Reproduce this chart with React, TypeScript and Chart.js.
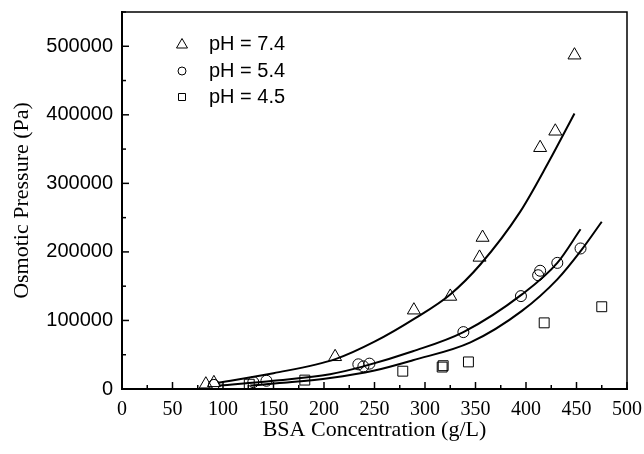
import React, { useEffect, useRef } from 'react';
import { Chart, registerables } from 'chart.js';

Chart.register(...registerables);

// Tick labels
const xTicks = [0, 50, 100, 150, 200, 250, 300, 350, 400, 450, 500];
const yTicks = [0, 100000, 200000, 300000, 400000, 500000];

// Measured data
const ph74X = [83, 91, 211, 289, 325, 354, 357, 414, 429, 448];
const ph74Y = [7000, 9000, 47000, 115000, 135000, 192000, 221000, 352000, 376000, 487000];
const ph54X = [91, 130, 143, 234, 239, 245, 338, 395, 412, 414, 431, 454];
const ph54Y = [6000, 10000, 12000, 36000, 33000, 37000, 83000, 135500, 166000, 172500, 184000, 205000];
const ph45X = [126, 181, 278, 317, 318, 343, 418, 475];
const ph45Y = [7000, 13000, 26000, 32000, 34000, 39500, 96500, 120000];

// Fitted curves
const fit74X = [95, 150, 212, 250, 290, 325, 355, 394, 422, 448];
const fit74Y = [9000, 23000, 44000, 69000, 103000, 138000, 182000, 258000, 330000, 402000];
const fit54X = [97, 150, 206, 239, 288, 338, 396, 431, 454];
const fit54Y = [5000, 12000, 21500, 33000, 55000, 83000, 138000, 184000, 233000];
const fit45X = [127, 160, 206, 250, 288, 345, 396, 431, 455, 475];
const fit45Y = [5000, 9000, 16000, 27000, 42000, 68000, 114000, 160000, 203000, 244000];

const legendLabels = ['pH = 7.4', 'pH = 5.4', 'pH = 4.5'];

const toPts = (xs: number[], ys: number[]) => xs.map((x, i) => ({ x, y: ys[i] }));

const SANS = '"Liberation Sans", Arial, sans-serif';
const SERIF = '"Liberation Serif", "Times New Roman", serif';

const zeroPad = (s: any) => {
  s.paddingLeft = 0;
  s.paddingRight = 0;
  s.paddingTop = 0;
  s.paddingBottom = 0;
};

const framePlugin = {
  id: 'framePlugin',
  afterDraw(chart: any) {
    const { ctx, chartArea } = chart;
    const xs = chart.scales.x;
    const ys = chart.scales.y;
    ctx.save();
    ctx.strokeStyle = '#000';
    ctx.lineWidth = 1.5;
    ctx.beginPath();
    ctx.moveTo(chartArea.left, chartArea.top);
    ctx.lineTo(chartArea.right, chartArea.top);
    ctx.lineTo(chartArea.right, chartArea.bottom);
    ctx.stroke();
    for (let v = 0; v <= 500; v += 25) {
      const px = xs.getPixelForValue(v);
      const len = v % 50 === 0 ? 7 : 4;
      ctx.beginPath();
      ctx.moveTo(px, chartArea.bottom);
      ctx.lineTo(px, chartArea.bottom - len);
      ctx.stroke();
    }
    for (let v = 0; v <= 550000; v += 50000) {
      const py = ys.getPixelForValue(v);
      const len = v % 100000 === 0 ? 7 : 4;
      ctx.beginPath();
      ctx.moveTo(chartArea.left, py);
      ctx.lineTo(chartArea.left + len, py);
      ctx.stroke();
    }
    const lx = 182;
    const rowY = [44, 71, 97];
    ctx.lineWidth = 1;
    ctx.beginPath();
    ctx.moveTo(lx, rowY[0] - 5.5);
    ctx.lineTo(lx + 5.5, rowY[0] + 4);
    ctx.lineTo(lx - 5.5, rowY[0] + 4);
    ctx.closePath();
    ctx.stroke();
    ctx.beginPath();
    ctx.arc(lx, rowY[1], 4, 0, Math.PI * 2);
    ctx.stroke();
    ctx.beginPath();
    ctx.rect(lx - 3.5, rowY[2] - 3.5, 7, 7);
    ctx.stroke();
    ctx.fillStyle = '#000';
    ctx.font = '20px ' + SANS;
    ctx.textBaseline = 'middle';
    ctx.textAlign = 'left';
    legendLabels.forEach((t, i) => ctx.fillText(t, 209, rowY[i]));
    ctx.restore();
  },
};

export default function App() {
  const ref = useRef<HTMLCanvasElement>(null);
  useEffect(() => {
    if (!ref.current) return;
    const markerBase = {
      showLine: false,
      backgroundColor: 'rgba(0,0,0,0)',
      borderColor: '#000',
      pointBorderWidth: 1,
    };
    const lineBase = {
      showLine: true,
      pointRadius: 0,
      borderColor: '#000',
      borderWidth: 2,
      cubicInterpolationMode: 'monotone',
      fill: false,
    };
    const chart = new Chart(ref.current, {
      type: 'scatter',
      data: {
        datasets: [
          { ...lineBase, data: toPts(fit74X, fit74Y) },
          { ...lineBase, data: toPts(fit54X, fit54Y) },
          { ...lineBase, data: toPts(fit45X, fit45Y) },
          { ...markerBase, label: legendLabels[0], data: toPts(ph74X, ph74Y), pointStyle: 'triangle', pointRadius: 7.5 },
          { ...markerBase, label: legendLabels[1], data: toPts(ph54X, ph54Y), pointStyle: 'circle', pointRadius: 5.5 },
          { ...markerBase, label: legendLabels[2], data: toPts(ph45X, ph45Y), pointStyle: 'rect', pointRadius: 7 },
        ] as any,
      },
      options: {
        animation: false,
        responsive: true,
        maintainAspectRatio: false,
        layout: { padding: { left: 0, right: 17, top: 12, bottom: 0 } },
        plugins: { legend: { display: false }, tooltip: { enabled: false } },
        scales: {
          x: {
            type: 'linear',
            min: 0,
            max: 500,
            grid: { display: false, drawTicks: false },
            border: { display: true, color: '#000', width: 2 },
            afterBuildTicks: (s: any) => { s.ticks = xTicks.map((v) => ({ value: v })); },
            afterFit: (s: any) => { s.height = 65; zeroPad(s); },
            ticks: {
              color: '#000',
              padding: 9,
              maxRotation: 0,
              autoSkip: false,
              font: { family: SERIF, size: 20 },
              callback: (v: any) => String(v),
            },
            title: {
              display: true,
              text: 'BSA Concentration (g/L)',
              color: '#000',
              font: { family: SERIF, size: 22 },
              padding: { top: 0, bottom: 11 },
            },
          },
          y: {
            type: 'linear',
            min: 0,
            max: 550000,
            grid: { display: false, drawTicks: false },
            border: { display: true, color: '#000', width: 2 },
            afterBuildTicks: (s: any) => { s.ticks = yTicks.map((v) => ({ value: v })); },
            afterFit: (s: any) => { s.width = 122; zeroPad(s); },
            ticks: {
              color: '#000',
              padding: 9,
              autoSkip: false,
              font: { family: SANS, size: 20 },
              callback: (v: any) => String(v),
            },
            title: {
              display: true,
              text: 'Osmotic Pressure (Pa)',
              color: '#000',
              font: { family: SERIF, size: 22 },
              padding: { top: 9, bottom: 0 },
            },
          },
        },
      },
      plugins: [framePlugin],
    });
    return () => chart.destroy();
  }, []);
  return (
    <div style={{ position: 'absolute', left: 0, top: 0, width: 644, height: 454, background: '#fff' }}>
      <canvas ref={ref} />
    </div>
  );
}
